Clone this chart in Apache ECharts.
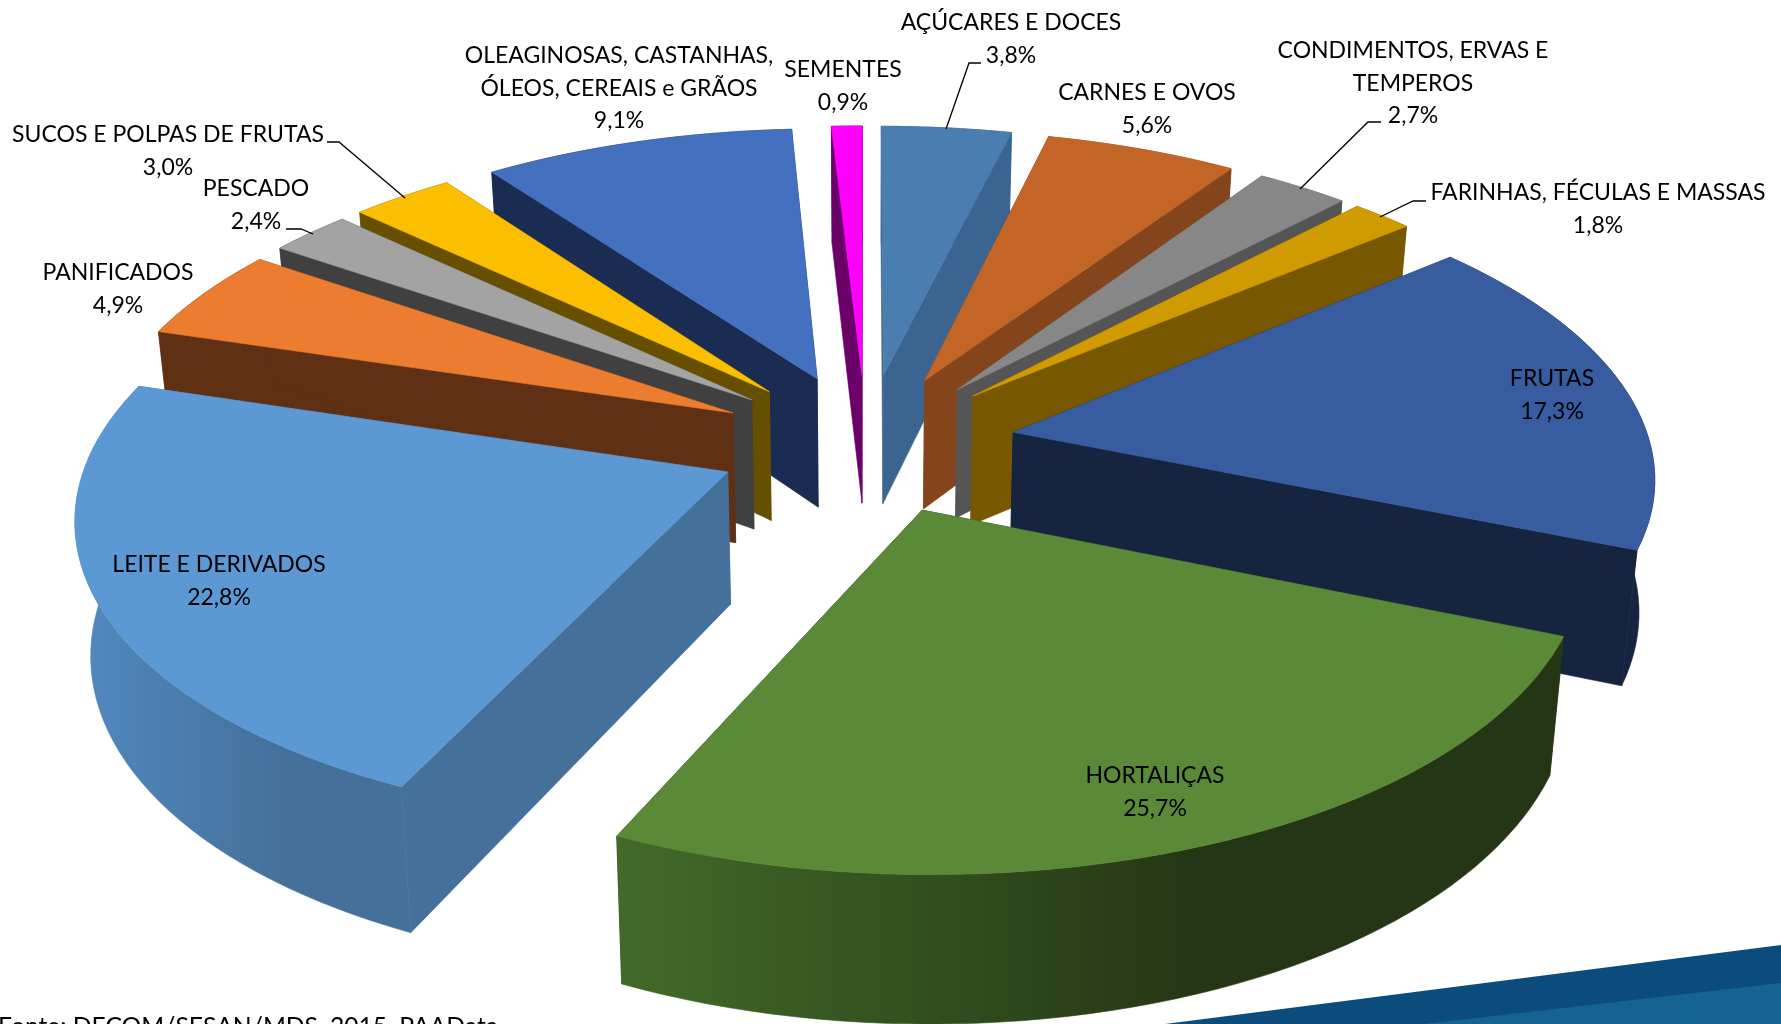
<!DOCTYPE html>
<html>
<head>
<meta charset="utf-8">
<title>Pie</title>
<script src="https://cdn.jsdelivr.net/npm/echarts@6/dist/echarts.min.js"></script>
<style>
  html, body { margin: 0; padding: 0; background: #fff; overflow: hidden; }
  #chart { width: 1781px; height: 1024px; }
</style>
</head>
<body>
<div id="chart"></div>
<script>
// clockwise from 12 o'clock
const categories = [
  'AÇÚCARES E DOCES', 'CARNES E OVOS', 'CONDIMENTOS, ERVAS E\nTEMPEROS', 'FARINHAS, FÉCULAS E MASSAS',
  'FRUTAS', 'HORTALIÇAS', 'LEITE E DERIVADOS', 'PANIFICADOS', 'PESCADO', 'SUCOS E POLPAS DE FRUTAS',
  'OLEAGINOSAS, CASTANHAS,\nÓLEOS, CEREAIS e GRÃOS', 'SEMENTES'
];
const values = [3.8, 5.6, 2.7, 1.8, 17.3, 25.7, 22.8, 4.9, 2.4, 3.0, 9.1, 0.9];

const topColors = ['#4a7eb0', '#c26527', '#878787', '#cf9b00', '#375c9f', '#5a8a38', '#5b98d4', '#ec7c30', '#a3a3a3', '#fbbe00', '#4370bf', '#ff00ff'];
const wallColors = ['#3b6590', '#84451c', '#555555', '#775800', '#172440', '#243615', '#44709a', '#603014', '#404040', '#665000', '#1a2c51', '#6a0068'];
const rimColors = [
  ['#3b6590', '#3b6590'], ['#84451c', '#84451c'], ['#555555', '#555555'], ['#775800', '#775800'],
  ['#172440', '#172440'], ['#426a29', '#243615'], ['#5189c0', '#44709a'], ['#603014', '#603014'],
  ['#404040', '#404040'], ['#665000', '#665000'], ['#1a2c51', '#1a2c51'], ['#6a0068', '#6a0068']
];

// label anchor (centre x, first line y)
const labelPos = [
  [1011, 23], [1147, 93], [1413, 51], [1598, 193], [1552, 379], [1155, 776],
  [219, 565], [118, 273], [256, 189], [168, 135], [619, 56], [843, 70]
];

// perspective of the pie plane
const CX = 866, CY = 443, RX = 636.5, RY = 298, K = 0.13;
const EXPLODE = 0.235, DEPTH = 131;

const total = values.reduce((a, b) => a + b, 0);
const starts = [];
values.reduce((acc, v, i) => { starts[i] = acc; return acc + v; }, 0);

function project(wx, wy) {
  const s = 1 / (1 + K * wy);
  return { x: CX + RX * wx * s, y: CY - RY * wy * s, s: s };
}
function topPt(p) { return [p.x, p.y]; }
function bottomPt(p) {
  return [CX + (p.x - CX) * 0.98, p.y + DEPTH * (1 + (p.s - 1) * 0.75)];
}

function sliceGeom(i) {
  const a0 = starts[i] / total * Math.PI * 2;
  const a1 = (starts[i] + values[i]) / total * Math.PI * 2;
  const mid = (a0 + a1) / 2;
  const ox = EXPLODE * Math.sin(mid), oy = EXPLODE * Math.cos(mid);
  const apex = project(ox, oy);
  const arc = [];
  const steps = Math.max(4, Math.ceil(values[i] * 2));
  for (let n = 0; n <= steps; n++) {
    const a = a0 + (a1 - a0) * n / steps;
    arc.push(project(ox + Math.sin(a), oy + Math.cos(a)));
  }
  return { apex, arc };
}

function poly(points, fill) {
  return { type: 'polygon', shape: { points: points }, style: { fill: fill, stroke: fill, lineWidth: 0.6 } };
}

function renderSlice(params, api) {
  const i = api.value(1);
  const g = sliceGeom(i);
  const first = g.arc[0], last = g.arc[g.arc.length - 1];
  const rim = new echarts.graphic.LinearGradient(0, 0, 1, 0, [
    { offset: 0, color: rimColors[i][0] },
    { offset: 0.62, color: rimColors[i][1] },
    { offset: 1, color: rimColors[i][1] }
  ]);
  return {
    type: 'group',
    children: [
      poly([topPt(g.apex), topPt(first), bottomPt(first), bottomPt(g.apex)], wallColors[i]),
      poly([topPt(g.apex), topPt(last), bottomPt(last), bottomPt(g.apex)], wallColors[i]),
      poly(g.arc.map(topPt).concat(g.arc.slice().reverse().map(bottomPt)), rim),
      poly([topPt(g.apex)].concat(g.arc.map(topPt)), topColors[i])
    ]
  };
}

// far slices first so the near ones cover them
const midOf = i => (starts[i] + values[i] / 2) / total * Math.PI * 2;
const drawOrder = values.map((v, i) => i).sort((a, b) => Math.cos(midOf(b)) - Math.cos(midOf(a)));

const leaderLines = [
  [[981, 63], [969, 63], [946, 129]],
  [[1381, 122], [1368, 122], [1300, 189]],
  [[1426, 201], [1413, 201], [1380, 217]],
  [[286, 229], [301, 229], [313, 234]],
  [[327, 142], [339, 142], [405, 198]]
];

const FONT = 'Lato';
const labels = categories.map((c, i) => ({
  type: 'text',
  x: labelPos[i][0],
  y: labelPos[i][1],
  z: 10,
  style: {
    text: c + '\n' + values[i].toFixed(1).replace('.', ',') + '%',
    fill: '#000',
    font: '23px ' + FONT,
    lineHeight: 32.5,
    align: 'center',
    verticalAlign: 'middle'
  }
}));
labels.forEach(l => {
  // middle of the block, the anchor is the first line
  const lines = l.style.text.split('\n').length;
  l.y += (lines - 1) * 32.5 / 2;
});

const chart = echarts.init(document.getElementById('chart'), null, { renderer: 'canvas' });
chart.setOption({
  backgroundColor: '#ffffff',
  animation: false,
  graphic: [
    { type: 'polygon', z: 0, shape: { points: [[1165, 1024], [1781, 945], [1781, 1024]] }, style: { fill: '#0c4c7c' } },
    { type: 'polygon', z: 0, shape: { points: [[1424, 1024], [1781, 983], [1781, 1024]] }, style: { fill: '#156393' } },
    {
      type: 'text', x: -2, y: 1015, z: 10,
      style: { text: 'Fonte: DECOM/SESAN/MDS, 2015. PAAData', fill: '#000', font: '24.7px ' + FONT }
    }
  ].concat(leaderLines.map(pts => ({
    type: 'polyline', z: 9, shape: { points: pts }, style: { stroke: '#000', lineWidth: 1.3, fill: null }
  }))).concat(labels),
  series: [{
    type: 'custom',
    coordinateSystem: 'none',
    silent: true,
    renderItem: renderSlice,
    data: drawOrder.map(i => [values[i], i])
  }]
});
</script>
</body>
</html>
